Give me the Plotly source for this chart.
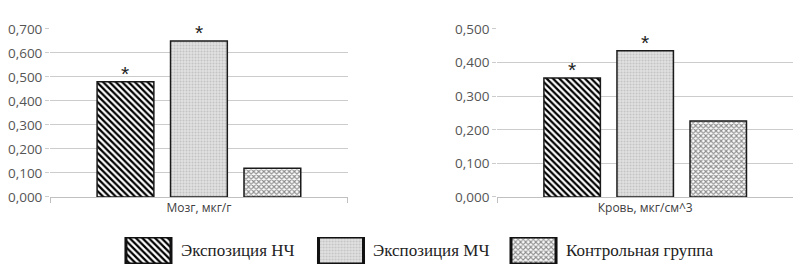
import plotly.graph_objects as go

series = ["Экспозиция НЧ", "Экспозиция МЧ", "Контрольная группа"]
brain_label = ["Мозг, мкг/г"]
blood_label = ["Кровь, мкг/см^3"]
brain_vals = [0.48, 0.65, 0.12]
blood_vals = [0.354, 0.435, 0.226]
stars = ["*", "*", ""]
brain_ticks = [0, 0.1, 0.2, 0.3, 0.4, 0.5, 0.6, 0.7]
blood_ticks = [0, 0.1, 0.2, 0.3, 0.4, 0.5]

patterns = [
    dict(shape="\\", fgcolor="#000000", bgcolor="#ffffff", size=4.5, solidity=0.5),
    dict(shape=".", fgcolor="#c2c2c2", bgcolor="#e2e2e2", size=3, solidity=0.35),
    dict(shape="x", fgcolor="#8c8c8c", bgcolor="#fafafa", size=3.6, solidity=0.5),
]

W, H = 807, 273
BARGAP, GROUPGAP = 0.26, 0.227
dom_left = [0.062, 0.431]
dom_right = [0.616, 0.983]
ydom = [0.2784, 0.8938]

fig = go.Figure()


def add_panel(cat, vals, xa, ya, dom):
    slot = (dom[1] - dom[0]) * W * (1 - BARGAP) / len(vals)
    for i, name in enumerate(series):
        fig.add_trace(go.Bar(
            x=cat, y=[vals[i]], name=name, xaxis=xa, yaxis=ya,
            marker=dict(pattern=patterns[i], line=dict(color="#1a1a1a", width=1.5)),
            showlegend=False, hoverinfo="skip"))
        if stars[i]:
            fig.add_annotation(
                x=cat[0], y=vals[i], xref=xa, yref=ya, text=stars[i],
                showarrow=False, xanchor="center", yanchor="bottom",
                xshift=(i - (len(vals) - 1) / 2) * slot, yshift=-5,
                font=dict(family="Liberation Sans", size=21, color="#222"))


add_panel(brain_label, brain_vals, "x", "y", dom_left)
add_panel(blood_label, blood_vals, "x2", "y2", dom_right)

# legend swatches drawn on a helper axis
leg_x = list(range(len(series)))
for i, name in enumerate(series):
    fig.add_trace(go.Bar(
        x=[leg_x[i]], y=[1], xaxis="x3", yaxis="y3", width=0.234,
        marker=dict(pattern=patterns[i], line=dict(color="#111", width=3)),
        showlegend=False, hoverinfo="skip"))
    fig.add_annotation(x=leg_x[i] + 0.158, y=0.5, xref="x3", yref="y3",
                       text=name, showarrow=False, xanchor="left", yanchor="middle",
                       font=dict(family="Liberation Serif", size=17, color="#222"))

tickfont = dict(family="Open Sans", size=13.5, color="#555555")
yax = dict(showgrid=True, gridcolor="#cccccc", gridwidth=1, zeroline=False,
           tickformat=".3f", ticks="outside", ticklen=4, tickcolor="#cccccc",
           tickfont=tickfont, showline=False, fixedrange=True, automargin=False)
xax = dict(showline=True, linecolor="#c0c0c0", linewidth=1, ticks="outside",
           tickson="boundaries", ticklen=5, tickcolor="#c0c0c0",
           tickfont=dict(family="Open Sans", size=12, color="#404040"),
           fixedrange=True, automargin=False)

fig.update_layout(
    template="none",
    width=W, height=H, margin=dict(l=0, r=0, t=0, b=0, pad=0, autoexpand=False),
    paper_bgcolor="white", plot_bgcolor="white",
    separators=", ",
    barmode="group", bargap=BARGAP, bargroupgap=GROUPGAP,
    xaxis=dict(xax, domain=dom_left, anchor="y"),
    yaxis=dict(yax, domain=ydom, range=[0, 0.7], tickvals=brain_ticks, anchor="x"),
    xaxis2=dict(xax, domain=dom_right, anchor="y2"),
    yaxis2=dict(yax, domain=ydom, range=[0, 0.5], tickvals=blood_ticks, anchor="x2"),
    xaxis3=dict(domain=[0.0647, 0.7804], range=[-0.5, 2.5], visible=False,
                anchor="y3", fixedrange=True, automargin=False),
    yaxis3=dict(domain=[0.033, 0.1319], range=[0, 1], visible=False,
                anchor="x3", fixedrange=True, automargin=False),
    showlegend=False,
)

fig.write_html("out.html", config={"displayModeBar": False, "staticPlot": True},
               post_script="document.body.style.margin='0';document.body.style.overflow='hidden';")
